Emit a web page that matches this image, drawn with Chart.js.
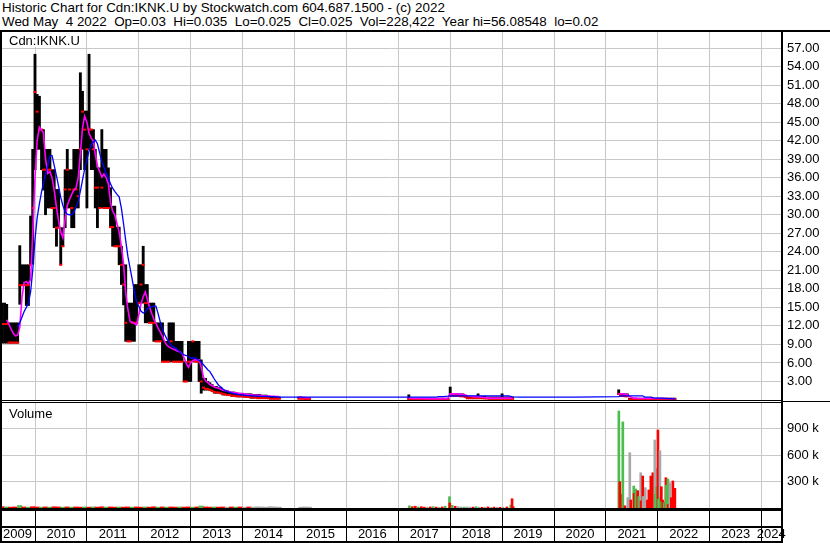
<!DOCTYPE html>
<html><head><meta charset="utf-8">
<script src="https://cdn.jsdelivr.net/npm/chart.js"></script>
<style>
html,body{margin:0;padding:0;background:#fff;}
#wrap{position:relative;width:830px;height:543px;overflow:hidden;background:#fff;font-family:'Liberation Sans',Arial,sans-serif;color:#000;}
.ln{position:absolute;background:#000;}
.txt{position:absolute;white-space:pre;font-size:13px;line-height:15px;}
canvas{position:absolute;left:0;}
</style></head><body>
<div id="wrap">
<div class="txt" style="left:2px;top:1px;font-size:13.4px;line-height:14px;">Historic Chart for Cdn:IKNK.U by Stockwatch.com 604.687.1500 - (c) 2022
Wed May  4 2022  Op=0.03  Hi=0.035  Lo=0.025  Cl=0.025  Vol=228,422  Year hi=56.08548  lo=0.02</div>
<canvas id="pc" width="830" height="368" style="top:32px;width:830px;height:368px"></canvas>
<canvas id="vc" width="830" height="140" style="top:403px;width:830px;height:140px"></canvas>
<div class="txt" style="left:2px;top:32px;width:82px;height:15px;background:#fff;padding:1px 0 0 7px;box-sizing:border-box;overflow:visible;">Cdn:IKNK.U</div>
<div class="txt" style="left:9px;top:406px;">Volume</div>
<div class="ln" style="left:0;top:30px;width:830px;height:2px"></div>
<div class="ln" style="left:0;top:30px;width:2px;height:513px"></div>
<div class="ln" style="left:781px;top:30px;width:2px;height:513px"></div>
<div class="ln" style="left:0;top:400px;width:781px;height:1px"></div>
<div class="ln" style="left:0;top:402px;width:781px;height:1px"></div>
<div class="ln" style="left:783px;top:401px;width:47px;height:1px"></div>
<div class="ln" style="left:0;top:508px;width:783px;height:3px"></div>
<div class="ln" style="left:0;top:526px;width:783px;height:2px"></div>
<div class="ln" style="left:0;top:541px;width:783px;height:2px"></div>
</div>
<script>
// ---------- DATA ----------
const yearLabels = ['2009','2010','2011','2012','2013','2014','2015','2016','2017','2018','2019','2020','2021','2022','2023','2024'];
const priceTicks = [3,6,9,12,15,18,21,24,27,30,33,36,39,42,45,48,51,54,57];
const volTicks = [300000,600000,900000];

// half-month price samples 2009-2014
const priceDates = [
'2009-05-16','2009-06-01','2009-06-16','2009-07-01','2009-07-16','2009-08-01','2009-08-16','2009-09-01','2009-09-16','2009-10-01','2009-10-16','2009-11-01','2009-11-16','2009-12-01','2009-12-16',
'2010-01-01','2010-01-16','2010-02-01','2010-02-16','2010-03-01','2010-03-16','2010-04-01','2010-04-16','2010-05-01','2010-05-16','2010-06-01','2010-06-16','2010-07-01','2010-07-16','2010-08-01','2010-08-16','2010-09-01','2010-09-16','2010-10-01','2010-10-16','2010-11-01','2010-11-16','2010-12-01','2010-12-16',
'2011-01-01','2011-01-16','2011-02-01','2011-02-16','2011-03-01','2011-03-16','2011-04-01','2011-04-16','2011-05-01','2011-05-16','2011-06-01','2011-06-16','2011-07-01','2011-07-16','2011-08-01','2011-08-16','2011-09-01','2011-09-16','2011-10-01','2011-10-16','2011-11-01','2011-11-16','2011-12-01','2011-12-16',
'2012-01-01','2012-01-16','2012-02-01','2012-02-16','2012-03-01','2012-03-16','2012-04-01','2012-04-16','2012-05-01','2012-05-16','2012-06-01','2012-06-16','2012-07-01','2012-07-16','2012-08-01','2012-08-16','2012-09-01','2012-09-16','2012-10-01','2012-10-16','2012-11-01','2012-11-16','2012-12-01','2012-12-16',
'2013-01-01','2013-01-16','2013-02-01','2013-02-16','2013-03-01','2013-03-16','2013-04-01','2013-04-16','2013-05-01','2013-05-16','2013-06-01','2013-06-16','2013-07-01','2013-07-16','2013-08-01','2013-08-16','2013-09-01','2013-09-16','2013-10-01','2013-10-16','2013-11-01','2013-11-16','2013-12-01','2013-12-16',
'2014-01-01','2014-01-16','2014-02-01','2014-02-16','2014-03-01','2014-03-16','2014-04-01','2014-04-16','2014-05-01','2014-05-16','2014-06-01','2014-06-16','2014-07-01','2014-07-16','2014-08-01','2014-08-16','2014-09-01','2014-09-16'];
const priceHigh = [
15.7,15.7,15.5,12.5,12.5,12.5,12.5,12.5,25.0,21.9,21.9,21.9,21.9,29.8,40.6,
56.0,49.5,49.2,43.8,43.8,40.6,40.6,40.6,37.3,37.3,34.1,34.1,27.9,27.9,37.3,40.6,37.3,37.3,40.6,40.6,40.6,53.0,50.0,46.8,
46.8,56.0,43.8,43.8,40.6,37.6,37.6,43.8,40.6,40.6,37.6,34.4,31.4,31.4,28.0,28.0,24.9,21.9,21.9,15.7,15.7,15.7,18.7,18.7,
21.9,21.9,24.9,18.7,18.7,15.7,15.7,15.7,12.5,12.5,12.5,12.5,9.5,9.5,12.5,12.5,12.5,9.5,9.5,9.5,9.5,6.2,6.2,9.5,
9.5,9.5,9.5,9.5,9.5,6.5,3.5,3.5,3.0,2.8,2.5,2.2,2.2,2.0,2.0,1.6,1.6,1.5,1.4,1.3,1.3,1.2,1.1,1.1,
1.1,1.0,1.0,1.0,1.0,0.9,0.9,0.9,0.9,0.8,0.8,0.8,0.6,0.6,0.6,0.6,0.5,0.5];
const priceLow = [
9.2,9.2,9.2,9.2,9.2,9.2,9.2,9.2,15.5,18.6,18.6,15.3,15.3,21.9,22.0,
37.3,40.6,40.6,37.3,34.0,30.0,31.1,31.1,31.1,27.9,24.9,27.9,21.9,24.9,27.9,31.1,31.1,27.9,27.9,31.1,31.1,37.3,40.6,37.3,
31.1,40.6,37.3,37.3,31.1,27.9,31.1,31.1,31.1,31.1,31.1,27.9,24.9,24.9,24.9,21.9,18.7,15.4,9.5,9.5,9.5,9.5,9.5,12.5,
15.7,15.7,15.7,12.5,12.5,12.5,12.5,9.5,9.5,9.5,9.5,6.2,6.2,6.2,6.2,6.2,6.2,6.2,6.2,6.2,6.2,3.0,3.0,3.0,
3.0,6.2,6.2,6.2,3.0,1.1,1.6,1.6,1.6,1.6,1.4,1.1,1.1,1.1,1.0,0.8,0.8,0.7,0.7,0.6,0.6,0.6,0.5,0.5,
0.5,0.5,0.5,0.4,0.3,0.3,0.3,0.3,0.3,0.25,0.25,0.25,0.2,0.2,0.2,0.2,0.2,0.2];
const priceClose = [
12.3,12.3,12.3,9.3,9.3,9.3,9.3,9.3,18.6,18.6,18.6,18.6,18.6,21.9,31.1,
49.9,46.7,43.8,43.8,37.3,37.3,37.3,37.3,31.1,31.1,27.9,27.9,21.9,24.9,34.1,37.3,34.1,31.1,34.1,34.1,33.0,40.6,46.7,43.8,
40.6,43.8,43.8,40.6,34.4,34.4,31.1,34.4,31.1,31.1,31.1,28.0,28.0,24.9,24.9,24.9,21.9,18.7,12.5,9.5,9.5,12.5,12.5,12.5,
15.7,18.7,21.9,15.7,15.7,12.5,12.5,12.5,9.5,9.5,9.5,6.2,6.2,6.2,6.2,9.5,6.2,6.2,6.2,6.2,6.2,3.0,3.0,6.2,
6.2,9.5,6.2,6.2,6.2,3.0,2.0,1.8,1.8,1.6,1.5,1.3,1.2,1.2,1.1,1.0,0.9,0.8,0.8,0.7,0.7,0.6,0.6,0.6,
0.6,0.5,0.5,0.5,0.4,0.4,0.4,0.3,0.3,0.3,0.3,0.3,0.3,0.2,0.2,0.2,0.2,0.2];
const pinkMA = [
null,null,13.0,12.3,11.5,10.8,10.4,10.5,11.8,16.5,19.0,19.2,18.8,19.5,27.0,
36.0,42.0,44.2,43.7,43.3,39.0,36.7,37.0,36.0,34.0,31.2,29.0,27.2,26.3,29.3,31.5,32.5,33.3,34.0,34.3,36.0,40.0,44.0,46.0,
45.0,43.2,42.4,41.9,39.8,37.9,37.0,36.1,36.6,36.0,35.0,32.0,30.6,30.0,28.5,27.2,24.8,22.0,17.4,14.7,12.7,12.6,12.4,12.2,
13.8,15.5,16.7,17.5,16.3,15.1,14.0,13.1,12.4,11.6,11.0,10.3,9.5,8.9,8.6,8.4,8.2,8.1,7.9,7.8,7.5,6.8,5.9,5.3,
6.0,6.4,6.5,6.5,6.5,5.3,3.7,3.1,2.8,2.5,2.3,2.1,2.0,1.9,1.75,1.6,1.5,1.45,1.35,1.25,1.2,1.15,1.1,1.05,
1.0,0.98,0.92,0.88,0.85,0.82,0.8,0.78,0.75,0.72,0.7,0.68,0.65,0.62,0.6,0.58,0.57,0.55];
const blueMA = [
null,null,null,null,null,null,null,11.8,12.5,13.4,14.3,15.0,15.7,17.5,21.0,
26.0,29.5,31.8,33.7,35.0,36.5,38.0,39.5,39.6,38.0,36.3,34.6,32.8,31.5,30.5,30.1,30.0,30.0,30.4,31.2,32.2,33.8,35.6,37.4,
38.9,40.3,41.4,41.8,42.1,41.5,40.0,38.6,37.7,36.7,36.0,35.0,34.3,33.8,33.3,32.9,31.0,28.5,25.8,23.3,21.3,19.5,17.5,16.0,
15.2,14.4,14.1,14.3,14.8,15.0,15.1,15.2,15.2,14.0,12.6,11.5,10.6,9.9,9.4,8.9,8.6,8.4,8.1,7.8,7.5,7.3,7.2,7.0,
6.8,6.8,6.8,6.6,6.4,6.1,5.7,5.3,4.9,4.6,4.0,3.4,2.9,2.4,2.1,1.8,1.5,1.35,1.25,1.15,1.05,0.97,0.9,0.85,
0.8,0.76,0.72,0.7,0.68,0.66,0.64,0.62,0.6,0.59,0.58,0.57,0.57,0.56,0.55,0.53,0.5,0.47];

// sparse later trading (null = no trades in that period)
const lateDates = [
'2014-10-16','2015-02-01','2015-02-16','2015-03-01','2015-03-16','2015-04-01','2015-04-16','2015-10-01','2016-10-01',
'2017-03-16','2017-04-01','2017-04-16','2017-05-01','2017-05-16','2017-06-01','2017-06-16','2017-07-01','2017-07-16','2017-08-01','2017-08-16','2017-09-01','2017-09-16','2017-10-01','2017-10-16','2017-11-01','2017-11-16','2017-12-01','2017-12-16',
'2018-01-01','2018-01-16','2018-02-01','2018-02-16','2018-03-01','2018-03-16','2018-04-01','2018-04-16','2018-05-01','2018-05-16','2018-06-01','2018-06-16','2018-07-01','2018-07-16','2018-08-01','2018-08-16','2018-09-01','2018-09-16','2018-10-01','2018-10-16','2018-11-01','2018-11-16','2018-12-01','2018-12-16',
'2019-01-01','2019-01-16','2019-02-01','2019-02-16','2019-03-01','2019-03-16','2019-05-01','2020-06-01',
'2021-04-01','2021-04-16','2021-05-01','2021-05-16','2021-06-01','2021-06-16','2021-07-01','2021-07-16','2021-08-01','2021-08-16','2021-09-01','2021-09-16','2021-10-01','2021-10-16','2021-11-01','2021-11-16','2021-12-01','2021-12-16',
'2022-01-01','2022-01-16','2022-02-01','2022-02-16','2022-03-01','2022-03-16','2022-04-01','2022-04-16','2022-05-01'];
const lateHigh = [
null,0.5,0.5,0.4,0.4,0.4,0.35,null,null,
0.84,0.3,0.3,0.3,0.3,0.3,0.3,0.3,0.3,0.3,0.3,0.3,0.3,0.3,0.3,0.3,0.3,0.3,0.3,
2.1,1.0,1.0,1.0,1.0,1.0,1.0,0.8,0.6,0.6,0.6,0.6,0.6,1.0,0.6,0.6,0.6,0.5,0.5,0.5,0.5,0.5,0.5,0.5,
1.0,0.5,0.5,0.5,0.5,0.5,null,null,
1.65,1.0,1.0,1.0,1.0,0.3,0.3,0.3,0.3,0.3,0.3,0.3,0.3,0.3,0.3,0.3,0.3,0.3,
0.3,0.3,0.3,0.3,0.3,0.3,0.3,0.3,0.3];
const lateLow = [
null,0.2,0.2,0.2,0.15,0.15,0.15,null,null,
0.1,0.05,0.05,0.05,0.05,0.05,0.05,0.05,0.05,0.05,0.05,0.05,0.05,0.05,0.05,0.05,0.05,0.05,0.05,
0.6,0.6,0.6,0.6,0.6,0.6,0.6,0.5,0.2,0.2,0.2,0.2,0.2,0.2,0.2,0.2,0.2,0.2,0.15,0.15,0.15,0.15,0.15,0.15,
0.15,0.15,0.15,0.15,0.15,0.15,null,null,
0.9,0.6,0.6,0.6,0.6,0.05,0.05,0.05,0.05,0.05,0.05,0.05,0.05,0.05,0.05,0.05,0.05,0.05,
0.05,0.05,0.05,0.05,0.05,0.05,0.05,0.05,0.05];
const lateClose = [
null,0.2,0.2,0.2,0.15,0.15,0.15,null,null,
0.15,0.1,0.1,0.1,0.1,0.1,0.1,0.1,0.1,0.1,0.1,0.1,0.1,0.1,0.1,0.1,0.1,0.1,0.1,
0.7,0.8,0.8,0.7,0.7,0.6,0.6,0.5,0.3,0.3,0.3,0.3,0.3,0.3,0.3,0.3,0.25,0.25,0.2,0.2,0.2,0.2,0.2,0.2,
0.2,0.2,0.2,0.2,0.2,0.2,null,null,
1.0,0.7,0.7,0.6,0.6,0.1,0.1,0.1,0.1,0.1,0.1,0.1,0.1,0.1,0.1,0.1,0.1,0.1,
0.1,0.1,0.1,0.1,0.1,0.1,0.1,0.1,0.1];
const latePink = [
null,0.45,0.42,0.4,0.38,0.36,0.35,null,null,
0.3,0.28,0.26,0.25,0.25,0.24,0.24,0.24,0.23,0.23,0.23,0.23,0.23,0.23,0.23,0.23,0.23,0.23,0.25,
1.0,1.0,1.0,1.0,0.95,0.95,0.9,0.8,0.7,0.6,0.6,0.55,0.55,0.55,0.5,0.45,0.4,0.35,0.3,0.3,0.3,0.3,0.3,0.3,
0.3,0.3,0.3,0.3,0.3,0.3,null,null,
1.0,1.0,1.0,0.95,0.85,0.6,0.4,0.3,0.3,0.25,0.25,0.25,0.25,0.25,0.25,0.25,0.25,0.25,
0.25,0.25,0.25,0.25,0.25,0.25,0.25,0.25,0.25];
const lateBlue = [
0.47,0.46,0.46,0.46,0.46,0.46,0.46,0.47,0.47,
0.47,0.47,0.47,0.47,0.47,0.47,0.47,0.47,0.47,0.47,0.47,0.47,0.47,0.5,0.55,0.55,0.55,0.6,0.62,
0.68,0.68,0.68,0.68,0.68,0.68,0.68,0.68,0.68,0.68,0.68,0.68,0.68,0.68,0.68,0.68,0.68,0.68,0.68,0.68,0.68,0.68,0.68,0.68,
0.68,0.68,0.68,0.68,0.6,0.5,0.47,0.47,
0.55,0.68,0.68,0.68,0.68,0.68,0.68,0.68,0.68,0.68,0.68,0.68,0.47,0.47,0.47,0.47,0.35,0.3,
0.3,0.3,0.3,0.25,0.25,0.22,0.22,0.2,0.2];

// volume: monthly 2009-2015, then individual sessions
const earlyVolDates = [
'2009-05-15','2009-06-15','2009-07-15','2009-08-15','2009-09-15','2009-10-15','2009-11-15','2009-12-15',
'2010-01-15','2010-02-15','2010-03-15','2010-04-15','2010-05-15','2010-06-15','2010-07-15','2010-08-15','2010-09-15','2010-10-15','2010-11-15','2010-12-15',
'2011-01-15','2011-02-15','2011-03-15','2011-04-15','2011-05-15','2011-06-15','2011-07-15','2011-08-15','2011-09-15','2011-10-15','2011-11-15','2011-12-15',
'2012-01-15','2012-02-15','2012-03-15','2012-04-15','2012-05-15','2012-06-15','2012-07-15','2012-08-15','2012-09-15','2012-10-15','2012-11-15','2012-12-15',
'2013-01-15','2013-02-15','2013-03-15','2013-04-15','2013-05-15','2013-06-15','2013-07-15','2013-08-15','2013-09-15','2013-10-15','2013-11-15','2013-12-15',
'2014-01-15','2014-02-15','2014-03-15','2014-04-15','2014-05-15','2014-06-15','2014-07-15','2014-08-15','2014-09-15',
'2015-02-15','2015-03-15','2015-04-15'];
const earlyVol = [
15000,12000,10000,12000,28000,12000,10000,15000,
12000,10000,12000,10000,14000,12000,10000,12000,10000,12000,10000,12000,
10000,12000,10000,14000,10000,12000,10000,12000,10000,12000,10000,12000,
10000,12000,10000,14000,10000,12000,10000,12000,10000,12000,10000,12000,
10000,12000,23000,12000,10000,12000,10000,12000,10000,12000,10000,12000,
10000,12000,10000,14000,12000,10000,15000,12000,10000,
10000,12000,10000];
const earlyDir = [
'd','u','d','d','u','d','u','d',
'd','u','d','u','d','d','u','d','u','d','d','u',
'd','u','d','d','u','d','d','u','d','d','u','d',
'd','u','d','d','u','d','u','d','d','u','d','d',
'u','d','u','d','d','u','d','d','n','d','u','d',
'n','d','n','n','n','n','n','n','n',
'n','n','n'];
const lateVolDates = [
'2017-03-20','2017-04-10','2017-05-01','2017-05-22','2017-06-12','2017-07-03','2017-07-24','2017-08-14','2017-09-04','2017-09-25','2017-10-16','2017-11-06','2017-11-27','2017-12-27','2017-12-29',
'2018-01-15','2018-02-05','2018-02-26','2018-03-19','2018-04-09','2018-04-30','2018-05-21','2018-06-11','2018-07-02','2018-07-23','2018-08-13','2018-09-03','2018-09-24','2018-10-15','2018-11-05','2018-11-26','2018-12-17',
'2019-01-07','2019-02-04','2019-03-03','2019-03-12','2019-03-20',
'2021-04-02','2021-04-09','2021-04-20','2021-04-30','2021-05-15','2021-06-04','2021-06-18','2021-06-25','2021-07-16','2021-07-18','2021-07-30','2021-08-13','2021-08-20',
'2021-09-03','2021-09-05','2021-09-17','2021-09-20','2021-10-05','2021-10-20','2021-10-30','2021-11-13','2021-11-27','2021-12-11','2021-12-14','2021-12-22','2021-12-24',
'2022-01-02','2022-01-06','2022-01-16','2022-01-18','2022-01-26','2022-01-28','2022-02-05','2022-02-15','2022-02-27','2022-03-01','2022-03-13','2022-03-15','2022-03-27','2022-04-06','2022-04-17','2022-05-01'];
const lateVol = [
25000,15000,20000,12000,15000,10000,10000,12000,15000,10000,8000,12000,20000,128000,57000,
30000,20000,15000,12000,10000,12000,10000,10000,15000,10000,8000,10000,12000,8000,10000,10000,8000,
10000,12000,34000,105000,15000,
1098000,298000,158000,974000,25000,117000,626000,90000,249000,165000,215000,196000,130000,
399000,80000,362000,130000,230000,90000,204000,362000,399000,770000,160000,449000,240000,
883000,100000,649000,120000,241000,70000,90000,60000,343000,258000,328000,40000,286000,117000,306000,223000];
const lateDir = [
'u','d','d','u','d','d','n','d','u','d','n','d','u','u','d',
'u','d','n','n','u','n','n','d','u','n','d','n','d','n','d','n','d',
'n','d','u','d','d',
'u','d','d','u','d','n','n','d','u','d','u','d','u',
'n','d','d','n','n','d','d','d','d','n','u','n','u',
'd','u','n','u','d','u','d','u','d','u','u','d','n','d','d','d'];

// ---------- BUILD ----------
const yf = s => { const [y,m,d] = s.split('-').map(Number); const a = Date.UTC(y,0,1), b = Date.UTC(y+1,0,1); return y + (Date.UTC(y,m-1,d)-a)/(b-a); };
const X_MIN = 2009.3256, X_MAX = 2024.3738;
const PRICE_MAX = 59.6, VOL_MAX = 1188680;
const FONT = {family:"'Liberation Sans', Arial, sans-serif", size:13};
const GRID = '#c8c8c8';
const noPad = s => { s.paddingTop = 0; s.paddingBottom = 0; s.paddingLeft = 0; s.paddingRight = 0; };
const allDates = priceDates.concat(lateDates);
const allHigh = priceHigh.concat(lateHigh), allLow = priceLow.concat(lateLow), allClose = priceClose.concat(lateClose);
const allPink = pinkMA.concat(latePink), allBlue = blueMA.concat(lateBlue);
const barPts = [], closePts = [], pinkPts = [], bluePts = [];
allDates.forEach((d,i) => {
  const t = yf(d);
  if (allHigh[i] != null) { barPts.push({x:t, y:[allLow[i], allHigh[i]]}); closePts.push({x:t, y:allClose[i]}); }
  pinkPts.push({x:t, y:allPink[i]});
  if (allBlue[i] != null) bluePts.push({x:t, y:allBlue[i]});
});
const yearGrid = yearLabels.slice(1).map(Number);
const volColor = {u:'#4cbc4c', d:'#ff0000', n:'#a8a8a8'};
const common = {responsive:false, animation:false, devicePixelRatio:1, events:[],
  layout:{padding:0, autoPadding:false}, plugins:{legend:{display:false}, tooltip:{enabled:false}}};

new Chart(document.getElementById('pc'), {
  type:'bar',
  data:{datasets:[
    {type:'line', data:bluePts, borderColor:'#0000ff', borderWidth:1.3, pointRadius:0, spanGaps:true, order:1},
    {type:'line', data:pinkPts, borderColor:'#ff00ff', borderWidth:1.6, pointRadius:0, spanGaps:false, order:2},
    {type:'line', data:closePts, showLine:false, pointStyle:'line', pointRadius:1.5, pointBorderColor:'#ff0000', pointBackgroundColor:'#ff0000', pointBorderWidth:2, order:3},
    {type:'bar', data:barPts, backgroundColor:'#000', barThickness:2.2, grouped:false, order:4}
  ]},
  options:Object.assign({}, common, {scales:{
    x:{type:'linear', min:X_MIN, max:X_MAX, offset:false, grid:{color:GRID, drawTicks:false, offset:false}, border:{display:false}, ticks:{display:false},
       afterBuildTicks:s=>{s.ticks = yearGrid.map(v=>({value:v}));}, afterFit:s=>{s.height=0; noPad(s);}},
    y:{type:'linear', position:'right', min:0, max:PRICE_MAX, grid:{color:GRID, drawTicks:false}, border:{display:false},
       ticks:{padding:6, color:'#000', font:FONT, callback:v=>Number(v).toFixed(2)},
       afterBuildTicks:s=>{s.ticks = priceTicks.map(v=>({value:v}));}, afterFit:s=>{s.width=49; noPad(s);}}
  }})
});

new Chart(document.getElementById('vc'), {
  type:'bar',
  data:{datasets:[
    {data:earlyVolDates.map((d,i)=>({x:yf(d), y:earlyVol[i]})), backgroundColor:earlyDir.map(c=>volColor[c]), barThickness:4.3, grouped:false},
    {data:lateVolDates.map((d,i)=>({x:yf(d), y:lateVol[i]})), backgroundColor:lateDir.map(c=>volColor[c]), barThickness:2, grouped:false}
  ]},
  options:Object.assign({}, common, {scales:{
    x:{type:'linear', position:'bottom', weight:0, min:X_MIN, max:X_MAX, offset:false,
       grid:{color:GRID, drawTicks:true, tickLength:33, tickColor:'#000', tickWidth:1, offset:false}, border:{display:false}, ticks:{display:false},
       afterBuildTicks:s=>{s.ticks = yearGrid.map(v=>({value:v}));}, afterFit:s=>{s.height=0; noPad(s);}},
    xl:{type:'linear', position:'bottom', weight:1, min:X_MIN, max:X_MAX, offset:false,
       grid:{display:false, drawTicks:false}, border:{display:false},
       ticks:{padding:19, color:'#000', font:FONT, autoSkip:false, maxRotation:0, minRotation:0, callback:(v,i)=>yearLabels[i]},
       afterBuildTicks:s=>{s.ticks = yearLabels.map(l=>{const y=Number(l); const a=Math.max(y,X_MIN), b=Math.min(y+1,X_MAX); return {value:(a+b)/2};});},
       afterFit:s=>{s.height=35; noPad(s);}},
    y:{type:'linear', position:'right', min:0, max:VOL_MAX, grid:{color:GRID, drawTicks:false}, border:{display:false},
       ticks:{padding:6, color:'#000', font:FONT, callback:v=>(v/1000)+' k'},
       afterBuildTicks:s=>{s.ticks = volTicks.map(v=>({value:v}));}, afterFit:s=>{s.width=49; noPad(s);}}
  }})
});
</script>
</body></html>
